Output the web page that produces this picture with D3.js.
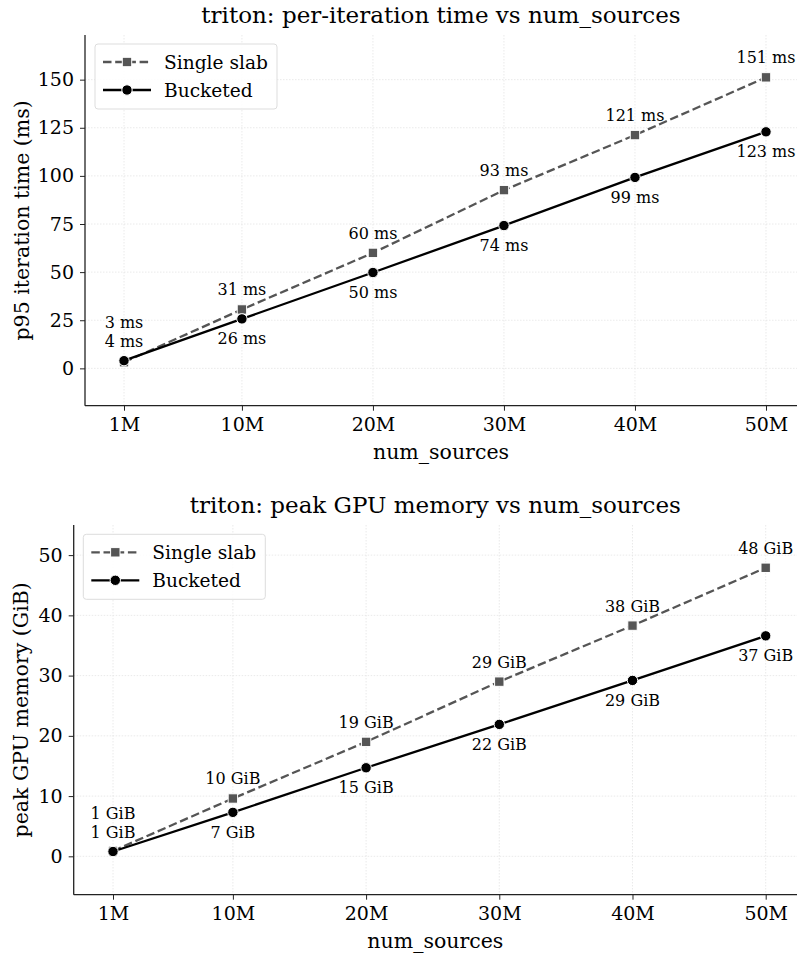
<!DOCTYPE html>
<html><head><meta charset="utf-8">
<script src="https://cdn.jsdelivr.net/npm/d3@7"></script>
<style>
body{margin:0;background:#fff;}
text{font-family:"DejaVu Serif",serif;fill:#000;}
</style></head>
<body>
<svg id="c" width="798" height="953"></svg>
<script>
const numSources = [1, 10, 20, 30, 40, 50];
const xTickLabels = ["1M", "10M", "20M", "30M", "40M", "50M"];
const timeSingle = [3.2, 30.6, 60.0, 92.6, 121.2, 151.2];
const timeBucketed = [4.0, 25.7, 49.8, 74.2, 99.2, 122.9];
const timeTicks = [0, 25, 50, 75, 100, 125, 150];
const memSingle = [0.9, 9.6, 19.0, 29.0, 38.3, 47.9];
const memBucketed = [0.8, 7.3, 14.7, 21.9, 29.2, 36.6];
const memTicks = [0, 10, 20, 30, 40, 50];
const seriesNames = ["Single slab", "Bucketed"];

const svg = d3.select("#c");

function panel(cfg) {
  const g = svg.append("g");
  const x = d3.scaleLinear().domain(cfg.xdom).range([cfg.left, cfg.right]);
  const y = d3.scaleLinear().domain(cfg.ydom).range([cfg.bottom, cfg.top]);

  // grid
  g.append("g").selectAll("line.gx").data(numSources).join("line")
    .attr("x1", d => x(d)).attr("x2", d => x(d))
    .attr("y1", cfg.top).attr("y2", cfg.bottom)
    .attr("stroke", "#e4e4e4").attr("stroke-width", 0.8).attr("stroke-dasharray", "1.5,1.5");
  g.append("g").selectAll("line.gy").data(cfg.yticks).join("line")
    .attr("x1", cfg.left).attr("x2", cfg.right)
    .attr("y1", d => y(d)).attr("y2", d => y(d))
    .attr("stroke", "#e4e4e4").attr("stroke-width", 0.8).attr("stroke-dasharray", "1.5,1.5");

  // axes
  const xa = g.append("g").attr("transform", `translate(0,${cfg.bottom})`)
    .call(d3.axisBottom(x).tickValues(numSources).tickFormat((d, i) => xTickLabels[i]).tickSize(5).tickPadding(7));
  const ya = g.append("g").attr("transform", `translate(${cfg.left},0)`)
    .call(d3.axisLeft(y).tickValues(cfg.yticks).tickFormat(d3.format("d")).tickSize(5).tickPadding(6));
  [xa, ya].forEach(a => {
    a.select(".domain").attr("stroke", "#222").attr("stroke-width", 1.3);
    a.selectAll(".tick line").attr("stroke", "#222").attr("stroke-width", 1);
    a.selectAll(".tick text").attr("font-family", "DejaVu Serif").attr("font-size", 19).attr("fill", "#111");
  });
  xa.select(".domain").attr("d", `M${cfg.left},0H${cfg.right}`);
  ya.select(".domain").attr("d", `M0,${cfg.top}V${cfg.bottom}`);

  // titles
  g.append("text").attr("x", (cfg.left + cfg.right) / 2).attr("y", cfg.top - 12)
    .attr("text-anchor", "middle").attr("font-size", 23).text(cfg.title);
  g.append("text").attr("x", (cfg.left + cfg.right) / 2).attr("y", cfg.bottom + 53)
    .attr("text-anchor", "middle").attr("font-size", 20.5).text("num_sources");
  g.append("text").attr("transform", `translate(${cfg.ylabelX},${(cfg.top + cfg.bottom) / 2}) rotate(-90)`)
    .attr("text-anchor", "middle").attr("font-size", 20.5).text(cfg.ylabel);

  const line = d3.line().x((d, i) => x(numSources[i])).y(d => y(d));
  // single slab
  g.append("path").datum(cfg.single).attr("d", line).attr("fill", "none")
    .attr("stroke", "#555555").attr("stroke-width", 2.3).attr("stroke-dasharray", "8.5,3.7");
  g.append("g").selectAll("rect").data(cfg.single).join("rect")
    .attr("x", (d, i) => x(numSources[i]) - 4.7).attr("y", d => y(d) - 4.7)
    .attr("width", 9.4).attr("height", 9.4).attr("fill", "#555555").attr("stroke", "#fff").attr("stroke-width", 1);
  // bucketed
  g.append("path").datum(cfg.bucketed).attr("d", line).attr("fill", "none")
    .attr("stroke", "#000").attr("stroke-width", 2.3);
  g.append("g").selectAll("circle").data(cfg.bucketed).join("circle")
    .attr("cx", (d, i) => x(numSources[i])).attr("cy", d => y(d)).attr("r", 5.2)
    .attr("fill", "#000").attr("stroke", "#fff").attr("stroke-width", 1);

  // annotations
  g.append("g").selectAll("text").data(cfg.single).join("text")
    .attr("x", (d, i) => x(numSources[i])).attr("y", (d, i) => i === 0 ? y(cfg.bucketed[0]) - 32.5 : y(d) - 14)
    .attr("text-anchor", "middle").attr("font-size", 16).attr("fill", "#111")
    .text(d => Math.round(d) + cfg.unit);
  g.append("g").selectAll("text").data(cfg.bucketed).join("text")
    .attr("x", (d, i) => x(numSources[i])).attr("y", (d, i) => i === 0 ? y(d) - 13.2 : y(d) + 25.5)
    .attr("text-anchor", "middle").attr("font-size", 16).attr("fill", "#111")
    .text(d => Math.round(d) + cfg.unit);

  // legend
  const lg = g.append("g").attr("transform", `translate(${cfg.legX},${cfg.legY})`);
  lg.append("rect").attr("x", 0).attr("y", 0).attr("width", 182).attr("height", 65).attr("rx", 3)
    .attr("fill", "#fff").attr("fill-opacity", 0.85).attr("stroke", "#dddddd").attr("stroke-width", 1);
  const rows = [18, 46];
  lg.append("line").attr("x1", 8).attr("x2", 56).attr("y1", rows[0]).attr("y2", rows[0])
    .attr("stroke", "#555555").attr("stroke-width", 2.3).attr("stroke-dasharray", "8.5,3.7");
  lg.append("rect").attr("x", 32 - 4.7).attr("y", rows[0] - 4.7).attr("width", 9.4).attr("height", 9.4)
    .attr("fill", "#555555").attr("stroke", "#fff").attr("stroke-width", 1);
  lg.append("line").attr("x1", 8).attr("x2", 56).attr("y1", rows[1]).attr("y2", rows[1])
    .attr("stroke", "#000").attr("stroke-width", 2.3);
  lg.append("circle").attr("cx", 32).attr("cy", rows[1]).attr("r", 5.2).attr("fill", "#000")
    .attr("stroke", "#fff").attr("stroke-width", 1);
  seriesNames.forEach((s, i) => {
    lg.append("text").attr("x", 69).attr("y", rows[i] + 6.5).attr("font-size", 18.6).attr("fill", "#111").text(s);
  });
}

// top panel: x(1)=124, x(50)=766 -> 13.1 px/unit
panel({
  left: 85, right: 797, top: 35, bottom: 405.7,
  xdom: [1 - 39 / 13.1, 50 + 31 / 13.1],
  ydom: [-19.4, 173.2], yticks: timeTicks,
  single: timeSingle, bucketed: timeBucketed, unit: " ms",
  title: "triton: per-iteration time vs num_sources",
  ylabel: "p95 iteration time (ms)", ylabelX: 29,
  legX: 95, legY: 44
});
// bottom panel: x(1)=113, x(50)=765.7 -> 13.32 px/unit
panel({
  left: 73.7, right: 797, top: 525, bottom: 894.7,
  xdom: [1 - 39.3 / 13.32, 50 + 31.3 / 13.32],
  ydom: [-6.37, 55.0], yticks: memTicks,
  single: memSingle, bucketed: memBucketed, unit: " GiB",
  title: "triton: peak GPU memory vs num_sources",
  ylabel: "peak GPU memory (GiB)", ylabelX: 28,
  legX: 83.3, legY: 534.3
});
</script>
</body></html>
